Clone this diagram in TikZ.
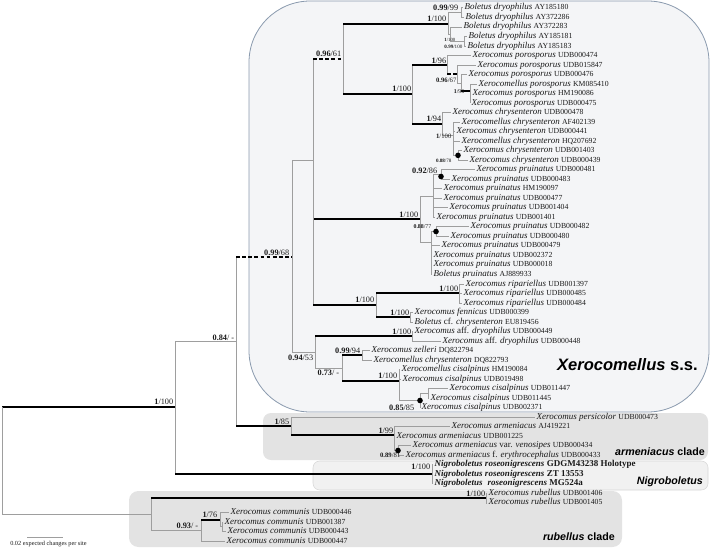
\documentclass[tikz,border=0pt]{standalone}
\usepackage{fontspec}
\setmainfont{Liberation Serif}
\newfontfamily\cladefont{Liberation Sans}
\definecolor{brgray}{HTML}{9E9E9E}
\definecolor{xfill}{HTML}{F4F5F7}
\definecolor{xdraw}{HTML}{8A9AAE}
\definecolor{afill}{HTML}{E3E3E3}
\definecolor{nfill}{HTML}{F1F1F1}
\definecolor{ndraw}{HTML}{D6D6D6}
\definecolor{txt}{HTML}{1A1A1A}
\newcommand{\accn}{\fontsize{5.8}{6}\selectfont}
\newcommand{\leaf}[4]{\node[lf] (l#1) at (#2,{7.8+(#1-1)*9.52}) {#3~{\accn #4}};}
\newcommand{\br}[3][thinbr]{\draw[thinbr] (#2) -- (#2 |- #3); \draw[#1] (#2 |- #3) -- (#3);}
\begin{document}
\begin{tikzpicture}[x=0.75pt,y=-0.75pt,
 thinbr/.style={draw=brgray,line width=0.5pt},
 thickbr/.style={draw=black,line width=1.5pt},
 dashbr/.style={draw=black,line width=1.5pt,dash pattern=on 2.8pt off 1.8pt},
 lf/.style={anchor=west,inner xsep=1.1pt,inner ysep=0pt,text height=4.6pt,text depth=1.4pt,font=\fontsize{6.75}{7}\selectfont,text=txt},
 sl/.style={anchor=east,inner sep=0.4pt,font=\fontsize{6.2}{6.5}\selectfont,text=txt},
 ss/.style={anchor=east,inner sep=0.3pt,font=\fontsize{4.4}{4.6}\selectfont,text=txt},
 dotn/.style={circle,fill=black,inner sep=0pt,minimum size=4.2pt},
 clade/.style={anchor=east,inner sep=0pt,text=black,font=\cladefont\bfseries\fontsize{8}{9}\selectfont}]
\useasboundingbox (0,0) rectangle (712,549);
% clade boxes
\path[fill=xfill,draw=xdraw,line width=0.6pt,rounded corners=46pt] (249,1) rectangle (709,412);
\path[fill=afill,rounded corners=6pt] (263,413) rectangle (708,460);
\path[fill=nfill,draw=ndraw,line width=0.4pt,rounded corners=5pt] (313,461) rectangle (708,490);
\path[fill=afill,rounded corners=7pt] (129,491) rectangle (622,547);
% internal nodes
\coordinate (root) at (2,407);
\coordinate (N1) at (175,407);
\coordinate (N2) at (236,341);
\coordinate (XN) at (292,257);
\coordinate (E) at (313,160);
\coordinate (D) at (343,59);
\coordinate (A) at (448,24);
\coordinate (B) at (461,12.5);
\coordinate (A2) at (450,34);
\coordinate (C) at (464,41.1);
\coordinate (F) at (412,94);
\coordinate (G) at (447,65);
\coordinate (H) at (457,74);
\coordinate (H2) at (461,83);
\coordinate (I) at (470,91);
\coordinate (J) at (442,124);
\coordinate (K) at (453,135.5);
\coordinate (L) at (458,155.35);
\coordinate (M) at (420,219);
\coordinate (P) at (433,196);
\coordinate (N) at (441,174.4);
\coordinate (Q) at (431,242);
\coordinate (O) at (436,231.5);
\coordinate (R) at (376,305.3);
\coordinate (S) at (459,293.4);
\coordinate (T) at (410,317.2);
\coordinate (X) at (315,352);
\coordinate (AD) at (412,336.3);
\coordinate (Y) at (342,368);
\coordinate (Z) at (362,355.3);
\coordinate (CS) at (399,381);
\coordinate (CSD) at (420,400.5);
\coordinate (CSE) at (428,393.4);
\coordinate (AN) at (291,426);
\coordinate (AM) at (394,435);
\coordinate (AU) at (398,450.5);
\coordinate (NG) at (432,474.3);
\coordinate (V) at (151,514);
\coordinate (W) at (486,498);
\coordinate (CN) at (201,530);
\coordinate (CC) at (220,519.5);
\coordinate (CC2) at (222,526.6);
% leaves
\leaf{1}{463}{\textit{Boletus dryophilus}}{AY185180}
\leaf{2}{464}{\textit{Boletus dryophilus}}{AY372286}
\leaf{3}{462}{\textit{Boletus dryophilus}}{AY372283}
\leaf{4}{467}{\textit{Boletus dryophilus}}{AY185181}
\leaf{5}{466}{\textit{Boletus dryophilus}}{AY185183}
\leaf{6}{471}{\textit{Xerocomus porosporus}}{UDB000474}
\leaf{7}{476}{\textit{Xerocomus porosporus}}{UDB015847}
\leaf{8}{467}{\textit{Xerocomus porosporus}}{UDB000476}
\leaf{9}{477}{\textit{Xerocomellus porosporus}}{KM085410}
\leaf{10}{471}{\textit{Xerocomus porosporus}}{HM190086}
\leaf{11}{470}{\textit{Xerocomus porosporus}}{UDB000475}
\leaf{12}{451}{\textit{Xerocomus chrysenteron}}{UDB000478}
\leaf{13}{460}{\textit{Xerocomellus chrysenteron}}{AF402139}
\leaf{14}{455}{\textit{Xerocomus chrysenteron}}{UDB000441}
\leaf{15}{460}{\textit{Xerocomellus chrysenteron}}{HQ207692}
\leaf{16}{462}{\textit{Xerocomus chrysenteron}}{UDB001403}
\leaf{17}{468}{\textit{Xerocomus chrysenteron}}{UDB000439}
\leaf{18}{475}{\textit{Xerocomus pruinatus}}{UDB000481}
\leaf{19}{450}{\textit{Xerocomus pruinatus}}{UDB000483}
\leaf{20}{442}{\textit{Xerocomus pruinatus}}{HM190097}
\leaf{21}{442}{\textit{Xerocomus pruinatus}}{UDB000477}
\leaf{22}{448}{\textit{Xerocomus pruinatus}}{UDB001404}
\leaf{23}{435}{\textit{Xerocomus pruinatus}}{UDB001401}
\leaf{24}{469}{\textit{Xerocomus pruinatus}}{UDB000482}
\leaf{25}{449}{\textit{Xerocomus pruinatus}}{UDB000480}
\leaf{26}{440}{\textit{Xerocomus pruinatus}}{UDB000479}
\leaf{27}{432}{\textit{Xerocomus pruinatus}}{UDB002372}
\leaf{28}{432}{\textit{Xerocomus pruinatus}}{UDB000018}
\leaf{29}{432}{\textit{Boletus pruinatus}}{AJ889933}
\leaf{30}{464}{\textit{Xerocomus ripariellus}}{UDB001397}
\leaf{31}{462}{\textit{Xerocomus ripariellus}}{UDB000485}
\leaf{32}{462}{\textit{Xerocomus ripariellus}}{UDB000484}
\leaf{33}{413}{\textit{Xerocomus fennicus}}{UDB000399}
\leaf{34}{413}{\textit{Boletus} cf. \textit{chrysenteron}}{EU819456}
\leaf{35}{413}{\textit{Xerocomus} aff. \textit{dryophilus}}{UDB000449}
\leaf{36}{441}{\textit{Xerocomus} aff. \textit{dryophilus}}{UDB000448}
\leaf{37}{370}{\textit{Xerocomus zelleri}}{DQ822794}
\leaf{38}{372}{\textit{Xerocomellus chrysenteron}}{DQ822793}
\leaf{39}{400}{\textit{Xerocomellus cisalpinus}}{HM190084}
\leaf{40}{401}{\textit{Xerocomus cisalpinus}}{UDB019498}
\leaf{41}{448}{\textit{Xerocomus cisalpinus}}{UDB011447}
\leaf{42}{429}{\textit{Xerocomus cisalpinus}}{UDB011445}
\leaf{43}{420}{\textit{Xerocomus cisalpinus}}{UDB002371}
\leaf{44}{535}{\textit{Xerocomus persicolor}}{UDB000473}
\leaf{45}{450}{\textit{Xerocomus armeniacus}}{AJ419221}
\leaf{46}{395}{\textit{Xerocomus armeniacus}}{UDB001225}
\leaf{47}{411}{\textit{Xerocomus armeniacus} var. \textit{venosipes}}{UDB000434}
\leaf{48}{404}{\textit{Xerocomus armeniacus} f. \textit{erythrocephalus}}{UDB000433}
\node[lf] (l49) at (433,{7.8+48*9.52}) {\bfseries\textit{Nigroboletus roseonigrescens} GDGM43238 Holotype};
\node[lf] (l50) at (433,{7.8+49*9.52}) {\bfseries\textit{Nigroboletus roseonigrescens} ZT 13553};
\node[lf] (l51) at (433,{7.8+50*9.52}) {\bfseries\textit{Nigroboletus\hspace{2pt} roseonigrescens} MG524a};
\leaf{52}{487}{\textit{Xerocomus rubellus}}{UDB001406}
\leaf{53}{487}{\textit{Xerocomus rubellus}}{UDB001405}
\leaf{54}{229}{\textit{Xerocomus communis}}{UDB000446}
\leaf{55}{223}{\textit{Xerocomus communis}}{UDB001387}
\leaf{56}{226}{\textit{Xerocomus communis}}{UDB000443}
\leaf{57}{225}{\textit{Xerocomus communis}}{UDB000447}
% branches
\br[thickbr]{root}{N1}
\br{root}{V}
\br{N1}{N2}
\br[thickbr]{N1}{NG}
\br[dashbr]{N2}{XN}
\br[thickbr]{N2}{AN}
\br{XN}{E}
\br{XN}{X}
\br[dashbr]{E}{D}
\br[thickbr]{E}{M}
\br[thickbr]{E}{R}
\br[thickbr]{D}{A}
\br[thickbr]{D}{F}
\br{A}{B}
\br{A}{A2}
\br{B}{l1} \br{B}{l2}
\br{A2}{l3} \br{A2}{C}
\br{C}{l4} \br{C}{l5}
\br[thickbr]{F}{G}
\br[thickbr]{F}{J}
\br{G}{l6}
\br[dashbr]{G}{H}
\br{H}{l7} \br{H}{H2}
\br{H2}{l8} \br[thickbr]{H2}{I}
\br{I}{l9} \br{I}{l10} \br{I}{l11}
\br{J}{l12} \br{J}{K}
\br{K}{l13} \br{K}{l14} \br{K}{l15} \br{K}{L}
\br{L}{l16} \br{L}{l17}
\br{M}{P} \br{M}{Q}
\br{P}{N} \br{P}{l20} \br{P}{l21} \br{P}{l22} \br{P}{l23}
\br{N}{l18} \br{N}{l19}
\br{Q}{O} \br{Q}{l26} \br{Q}{l27} \br{Q}{l28} \br{Q}{l29}
\br{O}{l24} \br{O}{l25}
\br[thickbr]{R}{S} \br[thickbr]{R}{T}
\br{S}{l30} \br{S}{l31} \br{S}{l32}
\br{T}{l33} \br{T}{l34}
\br[thickbr]{X}{AD} \br{X}{Y}
\br{AD}{l35} \br{AD}{l36}
\br[thickbr]{Y}{Z} \br[thickbr]{Y}{CS}
\br{Z}{l37} \br{Z}{l38}
\br{CS}{l39} \br{CS}{l40} \br{CS}{CSD}
\br{CSD}{CSE} \br{CSD}{l43}
\br{CSE}{l41} \br{CSE}{l42}
\br{AN}{l44} \br[thickbr]{AN}{AM}
\br{AM}{l45} \br{AM}{l46} \br{AM}{AU}
\br{AU}{l47} \br{AU}{l48}
\br{NG}{l49} \br{NG}{l50} \br{NG}{l51}
\br[thickbr]{V}{W} \br{V}{CN}
\br{W}{l52} \br{W}{l53}
\br[thickbr]{CN}{CC} \br{CN}{l57}
\br{CC}{l54} \br{CC}{CC2}
\br{CC2}{l55} \br{CC2}{l56}
% dots
\node[dotn] (dL) at (L) {};
\node[dotn] (dN) at (441,176.5) {};
\node[dotn] (dO) at (O) {};
\node[dotn] (dCSD) at (CSD) {};
\node[dotn] (dAU) at (AU) {};
% support labels
\node[sl] (s1) at (174,402) {\textbf{1}/100};
\node[sl] (s2) at (235,337.5) {\textbf{0.84}/ -};
\node[sl] (s3) at (290,252.5) {\textbf{0.99}/68};
\node[sl] (s4) at (342,54) {\textbf{0.96}/61};
\node[sl] (s5) at (447,19) {\textbf{1}/100};
\node[sl] (s6) at (412,89) {\textbf{1}/100};
\node[sl] (s7) at (447,60.5) {\textbf{1}/96};
\node[sl] (s8) at (442,118.5) {\textbf{1}/94};
\node[sl] (s9) at (419,214.5) {\textbf{1}/100};
\node[sl] (s10) at (375,300) {\textbf{1}/100};
\node[sl] (s11) at (459,288.5) {\textbf{1}/100};
\node[sl] (s12) at (410,312.5) {\textbf{1}/100};
\node[sl] (s13) at (412,331.5) {\textbf{1}/100};
\node[sl] (s14) at (361,350.5) {\textbf{0.99}/94};
\node[sl] (s15) at (314,358) {\textbf{0.94}/53};
\node[sl] (s16) at (340,373) {\textbf{0.73}/ -};
\node[sl] (s17) at (398,376) {\textbf{1}/100};
\node[sl] (s18) at (415,407.5) {\textbf{0.85}/85};
\node[sl] (s19) at (290,421.5) {\textbf{1}/85};
\node[sl] (s20) at (394,430.5) {\textbf{1}/99};
\node[sl] (s21) at (431,467) {\textbf{1}/100};
\node[sl] (s22) at (486,493.5) {\textbf{1}/100};
\node[sl] (s23) at (218,514.5) {\textbf{1}/76};
\node[sl] (s24) at (199,526) {\textbf{0.93}/ -};
\node[sl] (s25) at (459,8) {\textbf{0.99}/99};
\node[sl] (s26) at (438,171) {\textbf{0.92}/86};
\node[ss,font=\fontsize{3.6}{4}\selectfont] (s27) at (456,40) {\textbf{1}/100};
\node[ss,font=\fontsize{3.8}{4}\selectfont] (s28) at (463,47) {\textbf{0.99}/100};
\node[ss,font=\fontsize{5}{5.5}\selectfont] (s29) at (457,80) {\textbf{0.96}/67};
\node[ss] (s30) at (465,92) {\textbf{1}/96};
\node[ss,font=\fontsize{5}{5.5}\selectfont] (s31) at (452,136.5) {\textbf{1}/100};
\node[ss,font=\fontsize{3.8}{4}\selectfont] (s32) at (452,161) {\textbf{0.88}/78};
\node[ss] (s33) at (432,227) {\textbf{0.88}/77};
\node[ss,font=\fontsize{5}{5.5}\selectfont] (s34) at (401,455) {\textbf{0.89}/81};
% clade labels
\node[clade,font=\cladefont\bfseries\fontsize{12.4}{13}\selectfont] (cx) at (698,365) {\textit{Xerocomellus} s.s.};
\node[clade] (ca) at (705,452) {\textit{armeniacus} clade};
\node[clade] (cnb) at (703,482) {\textit{Nigroboletus}};
\node[clade] (cr) at (615,537) {\textit{rubellus} clade};
% scale bar
\coordinate (sb1) at (27,537);
\coordinate (sb2) at (63,537);
\draw[thinbr] (sb1) -- (sb2);
\node[anchor=west,inner sep=0pt,font=\fontsize{4.7}{5}\selectfont,text=txt] (sbt) at (10,544) {0.02 expected changes per site};
\end{tikzpicture}
\end{document}
